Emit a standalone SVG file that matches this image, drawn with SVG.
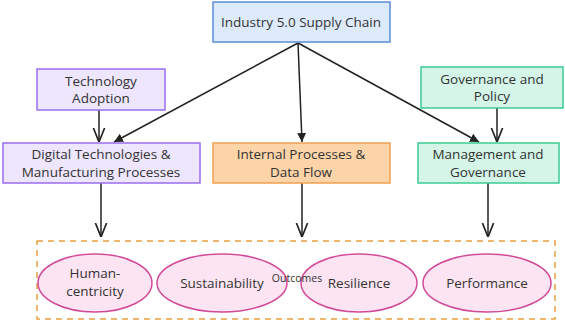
<svg xmlns="http://www.w3.org/2000/svg" width="565" height="322" viewBox="0 0 565 322">
<style>
text{font-family:"Open Sans","Liberation Sans",sans-serif;font-size:13.5px;fill:#333;text-anchor:middle}
.blue{fill:#ddeafb;stroke:#5a8fd8;stroke-width:1.5}
.purple{fill:#ede6fd;stroke:#9a6ef0;stroke-width:1.5}
.orange{fill:#fdd4a8;stroke:#f0a050;stroke-width:1.5}
.green{fill:#d4f5e8;stroke:#3ccb93;stroke-width:1.5}
.ell{fill:#fde4f2;stroke:#d04a98;stroke-width:1.5}
.edge{stroke:#222;stroke-width:1.5;fill:none}
</style>
<defs>
<marker id="fill" viewBox="0 0 10 10" refX="10" refY="5" markerWidth="9" markerHeight="9" markerUnits="userSpaceOnUse" orient="auto"><path d="M0,0L10,5L0,10z" fill="#222"/></marker>
<marker id="open" viewBox="0 0 10 10" refX="10" refY="5" markerWidth="14" markerHeight="14" markerUnits="userSpaceOnUse" orient="auto"><path d="M0,1L10,5L0,9" fill="none" stroke="#222" stroke-width="1.2"/></marker>
</defs>
<g id="outcomes">
<rect x="37" y="241" width="518" height="78" fill="#ffffff" stroke="#e8a040" stroke-width="1.5" stroke-dasharray="6,5"/>
</g>
<g id="connectors">
<path class="edge" d="M298,43L114,142" marker-end="url(#fill)"/>
<path class="edge" d="M298,43L302,142" marker-end="url(#fill)"/>
<path class="edge" d="M298,43L479,142" marker-end="url(#fill)"/>
<path class="edge" d="M99,110L99,142" marker-end="url(#open)"/>
<path class="edge" d="M497,108L497,142" marker-end="url(#open)"/>
<path class="edge" d="M101,183L101,237" marker-end="url(#open)"/>
<path class="edge" d="M302,183L302,237" marker-end="url(#open)"/>
<path class="edge" d="M488,183L488,237" marker-end="url(#open)"/>
</g>
<g id="n-industry"><rect class="blue" x="213" y="2" width="177" height="40"/><text x="301" y="27">Industry 5.0 Supply Chain</text></g>
<g id="n-techadopt"><rect class="purple" x="37" y="69" width="128" height="41"/><text x="101" y="85.5">Technology</text><text x="101" y="103">Adoption</text></g>
<g id="n-digital"><rect class="purple" x="3" y="143" width="197" height="40"/><text x="101" y="159">Digital Technologies &amp;</text><text x="101" y="176.5">Manufacturing Processes</text></g>
<g id="n-internal"><rect class="orange" x="213" y="143" width="177" height="40"/><text x="301" y="159">Internal Processes &amp;</text><text x="301" y="176.5">Data Flow</text></g>
<g id="n-govpolicy"><rect class="green" x="421" y="67" width="142" height="41"/><text x="492" y="83.5">Governance and</text><text x="492" y="101">Policy</text></g>
<g id="n-mgmt"><rect class="green" x="418" y="143" width="141" height="40"/><text x="488" y="159">Management and</text><text x="488" y="176.5">Governance</text></g>
<g id="n-human"><ellipse class="ell" cx="95" cy="283" rx="57" ry="29"/><text x="95" y="278">Human-</text><text x="95" y="296">centricity</text></g>
<g id="n-sustain"><ellipse class="ell" cx="222" cy="283" rx="65" ry="29"/><text x="222" y="288">Sustainability</text></g>
<g id="n-resil"><ellipse class="ell" cx="359" cy="283" rx="58" ry="29"/><text x="359" y="288">Resilience</text></g>
<g id="n-perf"><ellipse class="ell" cx="487" cy="283" rx="64" ry="29"/><text x="487" y="288">Performance</text></g>
<text id="outcomes-label" x="297" y="282" style="font-size:10.5px">Outcomes</text>
</svg>
